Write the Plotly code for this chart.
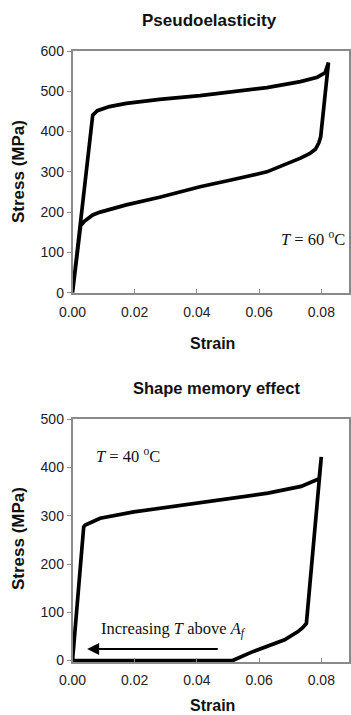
import plotly.graph_objects as go

# Pseudoelasticity (T = 60 C)
pe_strain = [0, 0.0054, 0.0065, 0.0080, 0.0119, 0.0173, 0.0280, 0.0410, 0.0517, 0.0625,
             0.0733, 0.0787, 0.0812, 0.0823, 0.0798, 0.0792, 0.0781, 0.0762, 0.0733,
             0.0625, 0.0517, 0.0410, 0.0280, 0.0173, 0.0089, 0.0065, 0.0038, 0.0026, 0]
pe_stress = [0, 354, 441, 452, 462, 470, 480, 489, 498, 509,
             524, 535, 546, 571, 387, 372, 356, 345, 334,
             300, 281, 263, 237, 218, 200, 193, 177, 166, 0]

# Shape memory effect (T = 40 C)
sme_strain = [0, 0.0036, 0.0041, 0.0068, 0.0089, 0.0197, 0.0412, 0.0520, 0.0628, 0.0735,
              0.0778, 0.0793, 0.0800, 0.0752, 0.0740, 0.0725, 0.0682, 0.0628, 0.0574,
              0.0515, 0]
sme_stress = [0, 277, 281, 288, 295, 308, 328, 338, 347, 361,
              373, 377, 422, 77, 68, 60, 43, 30, 17,
              0, 0]

arrow_from = (0.0472, 24)
arrow_to = (0.0047, 24)

x_ticks = [0, 0.02, 0.04, 0.06, 0.08]
pe_y_ticks = [0, 100, 200, 300, 400, 500, 600]
sme_y_ticks = [0, 100, 200, 300, 400, 500]

W, H = 351, 715
fig = go.Figure()
fig.add_trace(go.Scatter(x=pe_strain, y=pe_stress, mode="lines",
                         line=dict(color="black", width=3.7), xaxis="x", yaxis="y",
                         showlegend=False))
fig.add_trace(go.Scatter(x=sme_strain, y=sme_stress, mode="lines",
                         line=dict(color="black", width=3.7), xaxis="x2", yaxis="y2",
                         showlegend=False))

xdom = [72.5 / W, 349 / W]
axis_common = dict(showgrid=False, zeroline=False, showline=True, linecolor="#8a8a8a",
                   linewidth=1.5, mirror=True, tickcolor="#8a8a8a", automargin=False,
                   tickfont=dict(family="Liberation Sans, Arial", size=14, color="#222"))

fig.update_layout(
    width=W, height=H, margin=dict(l=0, r=0, t=0, b=0, autoexpand=False),
    paper_bgcolor="white", plot_bgcolor="white",
    xaxis=dict(domain=xdom, range=[0, 0.0889], tickvals=x_ticks, tickformat=".2f",
               ticks="inside", ticklen=4, ticklabelstandoff=6, anchor="y", **axis_common),
    yaxis=dict(domain=[1 - 292.7 / H, 1 - 51 / H], range=[0, 600], tickvals=pe_y_ticks,
               ticks="outside", ticklen=4, anchor="x", **axis_common),
    xaxis2=dict(domain=xdom, range=[0, 0.0889], tickvals=x_ticks, tickformat=".2f",
                ticks="inside", ticklen=4, ticklabelstandoff=4, anchor="y2", **axis_common),
    yaxis2=dict(domain=[1 - 662 / H, 1 - 419.3 / H], range=[-3, 500], tickvals=sme_y_ticks,
                ticks="outside", ticklen=4, anchor="x2", **axis_common),
)

bold = dict(family="Liberation Sans, Arial", color="#111")
serif = dict(family="Liberation Serif, Times New Roman", size=16.5, color="#111")

def pann(text, x, y, size, angle=0):
    fig.add_annotation(text=text, x=x / W, y=1 - y / H, xref="paper", yref="paper",
                       showarrow=False, xanchor="center", yanchor="middle",
                       textangle=angle, font=dict(size=size, **bold))

pann("<b>Pseudoelasticity</b>", 209, 20, 17)
pann("<b>Shape memory effect</b>", 216.7, 388.3, 16.5)
pann("<b>Stress (MPa)</b>", 18, 172, 17, -90)
pann("<b>Stress (MPa)</b>", 18, 539, 17, -90)
pann("<b>Strain</b>", 212, 343, 16)
pann("<b>Strain</b>", 213, 705, 16)

fig.add_annotation(text="<i>T</i> = 60 <sup>o</sup>C", x=0.0883, y=135, xref="x", yref="y",
                   xanchor="right", showarrow=False, font=serif)
fig.add_annotation(text="<i>T</i> = 40 <sup>o</sup>C", x=0.0178, y=424, xref="x2", yref="y2",
                   showarrow=False, font=serif)
fig.add_annotation(text="Increasing <i>T</i> above <i>A</i><sub><i>f</i></sub>", x=0.0325, y=64,
                   xref="x2", yref="y2", showarrow=False, font=serif)
fig.add_annotation(x=arrow_to[0], y=arrow_to[1], ax=arrow_from[0], ay=arrow_from[1],
                   xref="x2", yref="y2", axref="x2", ayref="y2", text="",
                   showarrow=True, arrowhead=2, arrowsize=1.2, arrowwidth=2,
                   arrowcolor="black")

fig.write_html("out.html", config={"displayModeBar": False},
               post_script="document.body.style.margin='0';")
